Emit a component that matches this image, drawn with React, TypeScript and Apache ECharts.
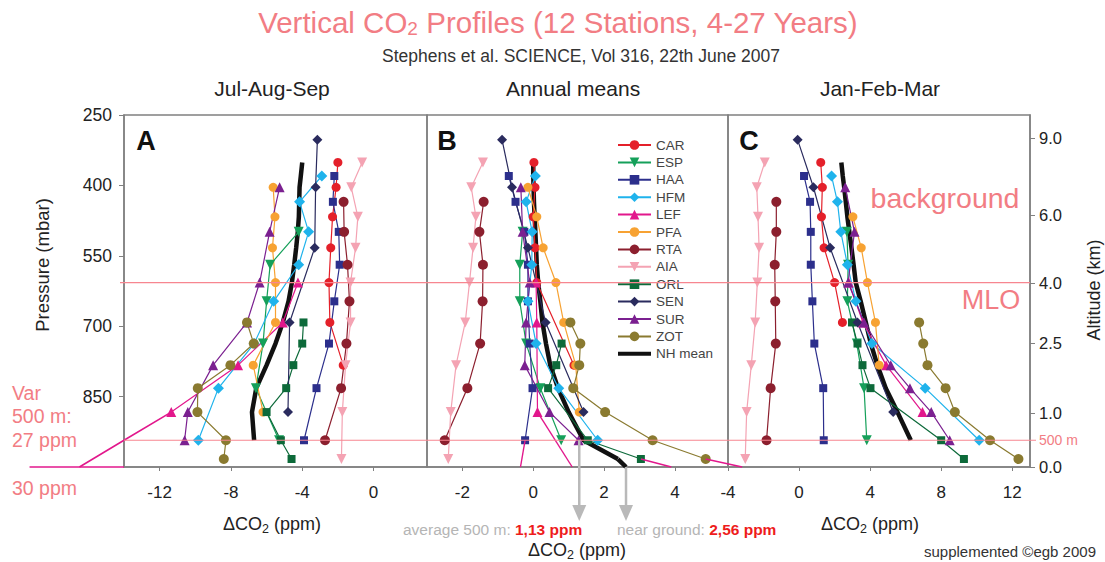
import React, { useEffect, useRef } from "react";
import * as echarts from "echarts";

const N = null;

// altitude bins (km) and the pressure (mbar) at which each bin is drawn
const LEVEL_KM = [0.15, 0.5, 1, 1.5, 2, 2.5, 3, 3.5, 4, 4.5, 5, 5.5, 6, 6.5, 7, 7.5, 8, 9];
const LEVEL_P = [983, 943, 883, 832, 783, 737, 692, 647, 607, 569, 533, 499, 467, 435, 404, 380, 351, 303];

// ---------- Jul-Aug-Sep (panel A) ----------
const CAR_JAS = [N, N, N, N, -1.7, N, -2.45, N, -2.5, N, -2.4, N, -2.3, N, -2.1, N, -2.0, N];
const ESP_JAS = [N, -5.3, N, -6.6, N, -6.2, N, -6.0, N, -5.8, N, -4.2, N, N, N, N, N, N];
const HAA_JAS = [N, -3.9, N, -3.2, N, -2.5, N, -2.2, N, -1.9, N, -1.95, N, -2.28, N, -2.2, N, N];
const HFM_JAS = [N, -9.83, N, -8.7, N, -6.7, N, -5.6, N, -4.2, N, -3.64, N, -4.15, N, -2.9, N, N];
const LEF_JAS = [N, N, -11.35, N, -7.6, N, -5.09, N, -4.24, N, N, N, N, N, N, N, N, N];
const PFA_JAS = [N, N, -6.2, N, -6.75, N, -5.5, N, -5.5, N, -5.67, N, -5.53, N, -5.63, N, N, N];
const RTA_JAS = [N, -2.72, N, -1.82, N, -1.52, N, -1.35, N, -1.46, N, -1.65, N, -1.68, N, N, N, N];
const AIA_JAS = [-1.8, N, -1.75, N, -1.57, N, -1.29, N, -1.29, N, -1.01, N, -0.88, N, -1.25, N, -0.64, N];
const ORL_JAS = [-4.6, -5.2, -6.0, -4.9, -4.5, -4.0, -3.93, N, N, N, N, N, N, N, N, N, N, N];
const SEN_JAS = [N, N, -4.8, N, N, N, -4.71, N, N, N, -3.3, N, N, N, -3.25, N, N, -3.15];
const SUR_JAS = [N, -10.6, -10.42, N, -9.0, N, -7.1, N, -6.39, N, N, -5.83, N, N, -5.27, N, N, N];
const ZOT_JAS = [-8.4, -8.28, -9.88, -9.86, -8.03, -6.72, -7.1, N, N, N, N, N, N, N, N, N, N, N];
const NH_JAS = [N, -6.7, -6.82, -6.58, -6.0, -5.5, -5.09, -4.77, -4.58, -4.45, -4.34, -4.25, -4.19, -4.17, -4.15, -4.08, -4.0, N];

// ---------- Annual means (panel B) ----------
const CAR_ANN = [N, N, N, N, 1.15, N, N, N, 0.1, N, 0.05, N, 0.0, N, 0.05, N, 0.02, N];
const ESP_ANN = [N, 0.79, N, 0.2, N, -0.2, N, -0.38, N, -0.38, N, -0.3, N, N, N, N, N, N];
const HAA_ANN = [N, -0.23, N, -0.02, N, -0.1, N, -0.15, N, -0.15, N, -0.25, N, -0.5, N, -0.69, N, N];
const HFM_ANN = [N, 1.82, N, 0.72, N, 0.08, N, -0.15, N, -0.04, N, -0.03, N, -0.2, N, 0.06, N, N];
const LEF_ANN = [N, N, 0.12, N, N, N, 0.1, N, 0.08, N, N, N, N, N, N, N, N, N];
const PFA_ANN = [N, N, 1.3, N, 1.2, N, 0.86, N, 0.64, N, 0.28, N, 0.1, N, -0.15, N, N, N];
const RTA_ANN = [N, -2.5, N, -1.86, N, -1.5, N, -1.43, N, -1.42, N, -1.52, N, -1.4, N, N, N, N];
const AIA_ANN = [-2.4, N, -2.33, N, -2.18, N, -1.92, N, -1.8, N, -1.7, N, -1.62, N, -1.75, N, -1.42, N];
const ORL_ANN = [3.04, 1.54, N, 0.42, 0.65, 0.8, N, N, N, N, N, N, N, N, N, N, N, N];
const SEN_ANN = [N, N, 1.42, N, N, N, 0.35, N, N, N, -0.15, N, N, N, -0.6, N, N, -0.88];
const SUR_ANN = [N, 1.28, 0.46, N, -0.24, N, -0.2, N, -0.1, N, N, -0.3, N, N, -0.35, N, N, N];
const ZOT_ANN = [4.87, 3.37, 2.03, 1.13, 1.3, 1.33, 1.05, N, N, N, N, N, N, N, N, N, N, N];
const NH_ANN = [2.39, 1.42, 1.0, 0.7, 0.48, 0.36, 0.26, 0.2, 0.14, 0.1, 0.08, 0.06, 0.04, 0.02, 0.01, 0.0, 0.0, N];

// ---------- Jan-Feb-Mar (panel C) ----------
const CAR_JFM = [N, N, N, N, N, N, 2.44, N, 2.0, N, 1.41, N, 1.26, N, 1.31, N, 1.22, N];
const ESP_JFM = [N, 3.81, N, 3.66, N, 3.25, N, 2.72, N, 2.76, N, 2.69, N, N, N, N, N, N];
const HAA_JFM = [N, 1.39, N, 1.36, N, 0.86, N, 0.75, N, 0.66, N, 0.66, N, 0.62, N, 0.28, N, N];
const HFM_JFM = [N, 10.14, N, 7.1, N, 4.1, N, 3.2, N, 2.72, N, 2.35, N, 2.16, N, 1.83, N, N];
const LEF_JFM = [N, N, 6.95, N, 4.9, N, 3.6, N, 2.8, N, N, N, N, N, N, N, N, N];
const PFA_JFM = [N, N, N, N, 4.51, N, 4.3, N, 3.85, N, 3.5, N, 3.03, N, N, N, N, N];
const RTA_JFM = [N, -1.83, N, -1.6, N, -1.31, N, -1.34, N, -1.37, N, -1.28, N, -1.28, N, N, N, N];
const AIA_JFM = [-3.03, N, -2.95, N, -2.69, N, -2.47, N, -2.35, N, -2.25, N, -2.31, N, -2.38, N, -1.93, N];
const ORL_JFM = [9.28, 8.0, N, 4.02, 3.57, 3.29, 2.98, N, N, N, N, N, N, N, N, N, N, N];
const SEN_JFM = [N, N, 5.3, N, N, N, 3.29, N, N, N, 1.75, N, N, N, 0.81, N, N, -0.08];
const SUR_JFM = [N, 8.48, 7.44, 6.24, 5.16, N, 3.66, N, 2.76, N, N, 3.12, N, N, 2.6, N, N, N];
const ZOT_JFM = [12.35, 10.75, 8.77, 8.25, 7.23, 6.99, 6.76, N, N, N, N, N, N, N, N, N, N, N];
const NH_JFM = [N, 6.29, 5.54, 4.88, 4.41, 4.04, 3.76, 3.47, 3.19, 3.07, 2.95, 2.83, 2.72, 2.63, 2.54, 2.46, 2.38, N];

// off-scale continuations drawn beyond the profiles ([ΔCO2, mbar])
const LEF_JAS_EXT = [[-11.35, 883], [-14.0, 943], [-16.5, 1000]];
const LEF_JAS_BASE = [[-19.3, 1000], [-14.0, 1000]];
const LEF_ANN_EXT = [[0.12, 883], [1.1, 1000]];
const LEF_ANN_EXT2 = [[-0.23, 943], [-0.36, 1000]];
const LEF_ANN_EXT3 = [[3.04, 983], [3.9, 1000]];
const LEF_ANN_EXT4 = [[4.87, 983], [5.9, 1000]];
const NH_ANN_EXT = [[2.39, 983], [2.62, 1000]];

// axes
const P_TICKS = [250, 400, 550, 700, 850];
const ALT_LABELS = ["9.0", "6.0", "4.0", "2.5", "1.0", "0.0"];
const ALT_P = [299, 463, 608, 736, 885, 1000];
const JAS_TICKS = [-12, -8, -4, 0];
const ANN_TICKS = [-2, 0, 2, 4];
const JFM_TICKS = [-4, 0, 4, 8, 12];
const X_RANGES = [[-14, 3], [-3, 5.5], [-4, 13]];

// reference lines & arrows
const MLO_P = 607;
const M500_P = 943;
const ARROW_VALUES = [1.3, 2.62];
const ARROW_FROM_P = [943, 1000];
const ARROW_TO_P = 1115;

const STATIONS = ["CAR", "ESP", "HAA", "HFM", "LEF", "PFA", "RTA", "AIA", "ORL", "SEN", "SUR", "ZOT"];
const NH_NAME = "NH mean";

const STYLE: Record<string, { color: string; symbol: string; size: number; rotate?: number }> = {
  CAR: { color: "#e4202a", symbol: "circle", size: 9 },
  ESP: { color: "#15a05a", symbol: "triangle", size: 10, rotate: 180 },
  HAA: { color: "#2c2f8c", symbol: "rect", size: 8 },
  HFM: { color: "#1fb3ec", symbol: "diamond", size: 11 },
  LEF: { color: "#e2178c", symbol: "triangle", size: 10 },
  PFA: { color: "#f7a232", symbol: "circle", size: 9 },
  RTA: { color: "#8c1f2e", symbol: "circle", size: 10 },
  AIA: { color: "#f4a3b3", symbol: "triangle", size: 10, rotate: 180 },
  ORL: { color: "#0d6a3a", symbol: "rect", size: 8 },
  SEN: { color: "#2a2b5e", symbol: "diamond", size: 10 },
  SUR: { color: "#7b2090", symbol: "triangle", size: 10 },
  ZOT: { color: "#8a7a30", symbol: "circle", size: 10 },
};

const JAS_TABLE: Record<string, (number | null)[]> = {
  CAR: CAR_JAS, ESP: ESP_JAS, HAA: HAA_JAS, HFM: HFM_JAS, LEF: LEF_JAS, PFA: PFA_JAS,
  RTA: RTA_JAS, AIA: AIA_JAS, ORL: ORL_JAS, SEN: SEN_JAS, SUR: SUR_JAS, ZOT: ZOT_JAS,
};
const ANN_TABLE: Record<string, (number | null)[]> = {
  CAR: CAR_ANN, ESP: ESP_ANN, HAA: HAA_ANN, HFM: HFM_ANN, LEF: LEF_ANN, PFA: PFA_ANN,
  RTA: RTA_ANN, AIA: AIA_ANN, ORL: ORL_ANN, SEN: SEN_ANN, SUR: SUR_ANN, ZOT: ZOT_ANN,
};
const JFM_TABLE: Record<string, (number | null)[]> = {
  CAR: CAR_JFM, ESP: ESP_JFM, HAA: HAA_JFM, HFM: HFM_JFM, LEF: LEF_JFM, PFA: PFA_JFM,
  RTA: RTA_JFM, AIA: AIA_JFM, ORL: ORL_JFM, SEN: SEN_JFM, SUR: SUR_JFM, ZOT: ZOT_JFM,
};
const PANELS = [JAS_TABLE, ANN_TABLE, JFM_TABLE];
const NH_PANELS = [NH_JAS, NH_ANN, NH_JFM];
const X_TICKS = [JAS_TICKS, ANN_TICKS, JFM_TICKS];

const FONT = "'Liberation Sans', Arial, Helvetica, sans-serif";
const PINK = "#f27d84";
const LINE_PINK = "#f78690";
const AXIS_GRAY = "#808080";

const toPoints = (vals: (number | null)[]) =>
  vals
    .map((v, i) => (v == null ? null : [v, LEVEL_P[i]]))
    .filter((p) => p !== null);

function txt(x: number, y: number, text: string, o: any = {}) {
  return {
    type: "text",
    x,
    y,
    rotation: o.rotation || 0,
    silent: true,
    z: 50,
    style: {
      text,
      fill: o.fill || "#222",
      fontSize: o.fontSize || 14,
      fontWeight: o.fontWeight || "normal",
      fontFamily: FONT,
      align: o.align || "center",
      verticalAlign: "middle",
      textAlign: o.align || "center",
      textVerticalAlign: "middle",
      rich: o.rich,
    },
  };
}

export default function App() {
  const ref = useRef<HTMLDivElement>(null);

  useEffect(() => {
    document.body.style.margin = "0";
    if (!ref.current) return;
    const chart = echarts.init(ref.current, undefined, { renderer: "svg" });

    const grids = [
      { left: 124, top: 115, width: 303, height: 352 },
      { left: 427, top: 115, width: 301, height: 352 },
      { left: 728, top: 115, width: 302, height: 352 },
    ].map((g) => ({ ...g, show: true, borderColor: AXIS_GRAY, borderWidth: 1.5, backgroundColor: "transparent" }));

    const xAxis = X_RANGES.map((r, gi) => ({
      type: "value",
      gridIndex: gi,
      min: r[0],
      max: r[1],
      splitLine: { show: false },
      axisLine: { show: true, onZero: false, lineStyle: { color: AXIS_GRAY, width: 1.5 } },
      axisTick: { show: true, customValues: X_TICKS[gi], length: 4, lineStyle: { color: AXIS_GRAY } },
      axisLabel: { customValues: X_TICKS[gi], color: "#222", fontSize: 17, fontFamily: FONT, margin: 17 },
    }));

    const yBase = {
      type: "value",
      min: 250,
      max: 1000,
      inverse: true,
      splitLine: { show: false },
    };
    const yAxis: any[] = [
      {
        ...yBase,
        gridIndex: 0,
        axisLine: { show: true, onZero: false, lineStyle: { color: AXIS_GRAY, width: 1.5 } },
        axisTick: { show: true, customValues: P_TICKS, length: 5, lineStyle: { color: AXIS_GRAY } },
        axisLabel: { customValues: P_TICKS, color: "#222", fontSize: 17.5, fontFamily: FONT, margin: 12 },
      },
      { ...yBase, gridIndex: 1, axisLine: { show: false, onZero: false }, axisTick: { show: false }, axisLabel: { show: false } },
      { ...yBase, gridIndex: 2, axisLine: { show: false, onZero: false }, axisTick: { show: false }, axisLabel: { show: false } },
      {
        ...yBase,
        gridIndex: 2,
        position: "right",
        axisLine: { show: true, onZero: false, lineStyle: { color: AXIS_GRAY, width: 1.5 } },
        axisTick: { show: true, customValues: ALT_P, length: 5, lineStyle: { color: AXIS_GRAY } },
        axisLabel: {
          customValues: ALT_P,
          color: "#222",
          fontSize: 16.5,
          fontFamily: FONT,
          margin: 9,
          formatter: (v: number) => {
            const i = ALT_P.indexOf(v);
            return i >= 0 ? ALT_LABELS[i] : "";
          },
        },
      },
    ];

    const series: any[] = [];
    PANELS.forEach((tbl, gi) => {
      series.push({
        type: "line",
        name: NH_NAME,
        xAxisIndex: gi,
        yAxisIndex: gi,
        data: toPoints(NH_PANELS[gi]),
        symbol: "none",
        lineStyle: { color: "#111", width: 4.5 },
        itemStyle: { color: "#111" },
        clip: false,
        z: 2,
        silent: true,
      });
      STATIONS.forEach((s) => {
        const st = STYLE[s];
        series.push({
          type: "line",
          name: s,
          xAxisIndex: gi,
          yAxisIndex: gi,
          data: toPoints(tbl[s]),
          symbol: st.symbol,
          symbolSize: st.size,
          symbolRotate: st.rotate || 0,
          itemStyle: { color: st.color },
          lineStyle: { color: st.color, width: 1.2 },
          clip: false,
          z: 3,
          silent: true,
        });
      });
    });

    chart.setOption({
      animation: false,
      grid: grids,
      xAxis,
      yAxis,
      series,
      legend: {
        data: [
          ...STATIONS,
          { name: NH_NAME, icon: "path://M0,4.5 L33,4.5 L33,8.5 L0,8.5 Z", itemStyle: { color: "#111" } },
        ],
        orient: "vertical",
        left: 612,
        top: 133,
        itemWidth: 33,
        itemHeight: 12,
        itemGap: 3.4,
        selectedMode: false,
        textStyle: { color: "#444", fontSize: 13.5, fontFamily: FONT, lineHeight: 12 },
      },
    });

    const px = (gi: number, v: number, p: number) =>
      chart.convertToPixel({ xAxisIndex: gi, yAxisIndex: gi } as any, [v, p]) as number[];

    const yMlo = px(0, 0, MLO_P)[1];
    const y500 = px(0, 0, M500_P)[1];
    const xL = px(0, X_RANGES[0][0], 250)[0];
    const xR = px(2, X_RANGES[2][1], 250)[0];

    const lines: any[] = [
      { type: "line", silent: true, z: 40, shape: { x1: xL - 4, y1: yMlo, x2: xR, y2: yMlo }, style: { stroke: LINE_PINK, lineWidth: 1.2 } },
      { type: "line", silent: true, z: 40, shape: { x1: xL, y1: y500, x2: xR + 6, y2: y500 }, style: { stroke: LINE_PINK, lineWidth: 1.2 } },
    ];

    const ext = [
      { gi: 0, data: LEF_JAS_EXT, color: STYLE.LEF.color, width: 1.6 },
      { gi: 0, data: LEF_JAS_BASE, color: STYLE.LEF.color, width: 1.6 },
      { gi: 1, data: LEF_ANN_EXT, color: STYLE.LEF.color, width: 1.4 },
      { gi: 1, data: LEF_ANN_EXT2, color: STYLE.LEF.color, width: 1.4 },
      { gi: 1, data: LEF_ANN_EXT3, color: STYLE.LEF.color, width: 1.4 },
      { gi: 1, data: LEF_ANN_EXT4, color: STYLE.LEF.color, width: 1.4 },
      { gi: 1, data: NH_ANN_EXT, color: "#111", width: 4.5 },
    ];
    ext.forEach((e) =>
      lines.push({
        type: "polyline",
        silent: true,
        z: 30,
        shape: { points: e.data.map((d) => px(e.gi, d[0], d[1])) },
        style: { stroke: e.color, lineWidth: e.width, fill: null },
      })
    );

    ARROW_VALUES.forEach((v, i) => {
      const [ax, ay] = px(1, v, ARROW_FROM_P[i]);
      const ay2 = px(1, v, ARROW_TO_P)[1];
      lines.push({ type: "line", silent: true, z: 41, shape: { x1: ax, y1: ay, x2: ax, y2: ay2 - 14 }, style: { stroke: "#b9b9b9", lineWidth: 2.5 } });
      lines.push({ type: "polygon", silent: true, z: 41, shape: { points: [[ax - 7, ay2 - 16], [ax + 7, ay2 - 16], [ax, ay2]] }, style: { fill: "#b9b9b9" } });
    });

    const sub = { fontSize: 12.5, padding: [9, 0, 0, 0], fontFamily: FONT };
    const texts = [
      txt(558, 22, "Vertical CO{s|2} Profiles (12 Stations, 4-27 Years)", {
        fill: PINK,
        fontSize: 29.5,
        rich: { s: { fontSize: 19, padding: [13, 0, 0, 0], fill: PINK, fontFamily: FONT } },
      }),
      txt(581, 56, "Stephens et al. SCIENCE, Vol 316, 22th June 2007", { fontSize: 17.5, fill: "#333" }),
      txt(272, 88, "Jul-Aug-Sep", { fontSize: 21, fill: "#222" }),
      txt(573, 88, "Annual means", { fontSize: 21, fill: "#222" }),
      txt(880, 88, "Jan-Feb-Mar", { fontSize: 21, fill: "#222" }),
      txt(146, 141, "A", { fontSize: 27, fontWeight: "bold", fill: "#111" }),
      txt(447, 141, "B", { fontSize: 27, fontWeight: "bold", fill: "#111" }),
      txt(749, 141, "C", { fontSize: 27, fontWeight: "bold", fill: "#111" }),
      txt(42, 265, "Pressure (mbar)", { fontSize: 18.5, rotation: Math.PI / 2 }),
      txt(1094, 290, "Altitude (km)", { fontSize: 18, rotation: Math.PI / 2 }),
      txt(272, 524, "ΔCO{s|2} (ppm)", { fontSize: 18, rich: { s: { ...sub, fill: "#222" } } }),
      txt(577, 550, "ΔCO{s|2} (ppm)", { fontSize: 18, rich: { s: { ...sub, fill: "#222" } } }),
      txt(870, 524, "ΔCO{s|2} (ppm)", { fontSize: 18, rich: { s: { ...sub, fill: "#222" } } }),
      txt(403, 529, "average 500 m: {v|1,13 ppm}", {
        align: "left",
        fontSize: 15.5,
        fill: "#b5b5b5",
        rich: { v: { fill: "#ee1c1c", fontWeight: "bold", fontSize: 15.5, fontFamily: FONT } },
      }),
      txt(617, 529, "near ground: {v|2,56 ppm}", {
        align: "left",
        fontSize: 15.5,
        fill: "#b5b5b5",
        rich: { v: { fill: "#ee1c1c", fontWeight: "bold", fontSize: 15.5, fontFamily: FONT } },
      }),
      txt(1096, 551, "supplemented ©egb 2009", { align: "right", fontSize: 15, fill: "#333" }),
      txt(945, 198, "background", { fontSize: 28.5, fill: PINK }),
      txt(991, 300, "MLO", { fontSize: 27, fill: PINK }),
      txt(1039, 440, "500 m", { align: "left", fontSize: 14, fill: PINK }),
      txt(12, 393, "Var", { align: "left", fontSize: 19.5, fill: PINK }),
      txt(12, 416, "500 m:", { align: "left", fontSize: 19.5, fill: PINK }),
      txt(12, 440, "27 ppm", { align: "left", fontSize: 19.5, fill: PINK }),
      txt(12, 488, "30 ppm", { align: "left", fontSize: 19.5, fill: PINK }),
    ];

    chart.setOption({ graphic: [...lines, ...texts] });

    return () => chart.dispose();
  }, []);

  return <div ref={ref} style={{ width: 1105, height: 562 }} />;
}
